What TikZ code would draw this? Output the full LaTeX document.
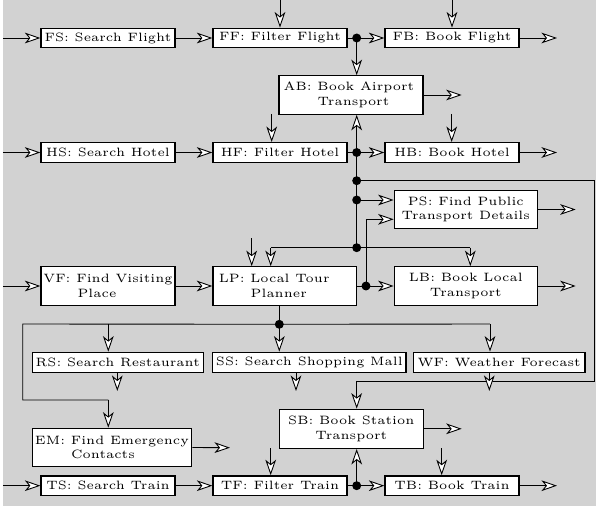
\documentclass[tikz,border=0pt]{standalone}
\usetikzlibrary{arrows.meta}
\def\p{0.413pt}
\newlength\pp
\setlength\pp{0.413pt}
\begin{document}
\begin{tikzpicture}[x=0.413pt,y=-0.413pt,
  box/.style={draw,fill=white,line width=0.55pt,inner sep=0pt,font=\tiny,align=center},
  sgl/.style={box,minimum width={134*\p},minimum height={19.6*\p}},
  dbl/.style={box,minimum height={38.4*\p}},
  conn/.style={line width=0.37pt},
  arr/.style={conn,-{Stealth[length=6.4pt,width=4.4pt,inset=1.8pt,fill=white]}},
  dot/.style={fill=black}]
\useasboundingbox (0,0) rectangle (596,510);
\fill[gray!35] (3,0) rectangle (596,506);

% ---------- nodes ----------
\node[sgl] (FS) at (108,38) {FS: Search Flight};
\node[sgl] (FF) at (280,38) {FF: Filter Flight};
\node[sgl] (FB) at (452,38) {FB: Book Flight};
\node[dbl,minimum width={144*\p}] (AB) at (351,95) {AB: Book Airport\hspace*{4\pp}\\\hspace*{5\pp}Transport};
\node[sgl] (HS) at (108,152.5) {HS: Search Hotel};
\node[sgl] (HF) at (280,152.5) {HF: Filter Hotel};
\node[sgl] (HB) at (452,152.5) {HB: Book Hotel};
\node[dbl,minimum width={143*\p},minimum height={37.6*\p}] (PS) at (465.8,209.5) {PS: Find Public\\Transport Details};
\node[dbl,minimum width={134*\p}] (VF) at (108,286) {VF: Find Visiting\\Place\hspace*{22\pp}};
\node[dbl,minimum width={143.5*\p}] (LP) at (284.7,286) {LP: Local Tour\hspace*{21\pp}\\Planner\hspace*{11.8\pp}};
\node[dbl,minimum width={143*\p}] (LB) at (465.8,286) {LB: Book Local\\Transport};
\node[box,minimum width={171*\p},minimum height={20*\p}] (RS) at (117.8,362.3) {RS: Search Restaurant};
\node[box,minimum width={193.3*\p},minimum height={20*\p}] (SS) at (309.3,362.3) {SS: Search Shopping Mall};
\node[box,minimum width={171.7*\p},minimum height={20*\p}] (WF) at (499.2,362.3) {WF: Weather Forecast};
\node[dbl,minimum width={144*\p},minimum height={39*\p}] (SB) at (351.3,428.8) {SB: Book Station\\Transport};
\node[dbl,minimum width={159.4*\p}] (EM) at (112,447.5) {EM: Find Emergency\\Contacts\hspace*{18\pp}};
\node[sgl] (TS) at (108,485.7) {TS: Search Train};
\node[sgl] (TF) at (280,485.7) {TF: Filter Train};
\node[sgl] (TB) at (452,485.7) {TB: Book Train};

% ---------- coordinates ----------
\coordinate (inFS) at (3,38);
\coordinate (inHS) at (3,152.5);
\coordinate (inVF) at (3,286);
\coordinate (inTS) at (3,485.7);
\coordinate (topFF) at (280,0);
\coordinate (topFB) at (452,0);
\coordinate (outFB) at (557,38);
\coordinate (outAB) at (461.7,95);
\coordinate (inHF) at (271.7,114);
\coordinate (inHB) at (451.7,114);
\coordinate (outHB) at (557,152.5);
\coordinate (outPS) at (575.7,209.5);
\coordinate (outLB) at (575.7,286);
\coordinate (inLP) at (251.7,238.3);
\coordinate (rtA) at (594,180.7);
\coordinate (rtB) at (594,381);
\coordinate (rtC) at (356.7,381);
\coordinate (lpA) at (270.7,247.7);
\coordinate (lbA) at (470.3,247.7);
\coordinate (psA) at (366,219.3);
\coordinate (lfA) at (22.7,324);
\coordinate (lfB) at (22.7,400);
\coordinate (lfC) at (108.3,400);
\coordinate (rsA) at (108.3,324);
\coordinate (wfA) at (490,324);
\coordinate (outRS) at (117.3,391);
\coordinate (outSS) at (296,391);
\coordinate (outWF) at (489.3,391);
\coordinate (ssT) at (296,372.3);
\coordinate (wfT) at (489.3,372.3);
\coordinate (outEM) at (230,447.7);
\coordinate (outSB) at (461.7,428.8);
\coordinate (inTF) at (270.7,448.3);
\coordinate (inTB) at (441.7,448.3);
\coordinate (outTB) at (557,485.7);
% junctions
\coordinate (dF) at (356.7,38);
\coordinate (dH) at (356.7,152.5);
\coordinate (d1) at (356.7,180.7);
\coordinate (d2) at (356.7,200);
\coordinate (d3) at (356.7,247.7);
\coordinate (dL) at (366,286);
\coordinate (dS) at (279.3,324.3);
\coordinate (dT) at (356.7,485.7);

% ---------- connectors ----------
% flights
\draw[arr] (inFS) -- (FS.west);
\draw[arr] (FS.east) -- (FF.west);
\draw[conn] (FF.east) -- (dF);
\draw[arr] (dF) -- (FB.west);
\draw[arr] (topFF) -- (FF.north);
\draw[arr] (topFB) -- (FB.north);
\draw[arr] (FB.east) -- (outFB);
\draw[arr] (dF) -- (dF |- AB.north);
\draw[arr] (AB.east) -- (outAB);
% hotels
\draw[arr] (inHF) -- (inHF |- HF.north);
\draw[arr] (inHB) -- (inHB |- HB.north);
\draw[arr] (inHS) -- (HS.west);
\draw[arr] (HS.east) -- (HF.west);
\draw[conn] (HF.east) -- (dH);
\draw[arr] (dH) -- (HB.west);
\draw[arr] (dH) -- (dH |- AB.south);
\draw[arr] (HB.east) -- (outHB);
% local
\draw[conn] (dH) -- (d1) -- (d2) -- (d3);
\draw[conn] (d1) -- (rtA) -- (rtB) -- (rtC);
\draw[arr] (rtC) -- (rtC |- SB.north);
\draw[arr] (d2) -- (d2 -| PS.west);
\draw[conn] (d3) -- (lpA);
\draw[arr] (lpA) -- (lpA |- LP.north);
\draw[conn] (d3) -- (lbA);
\draw[arr] (lbA) -- (lbA |- LB.north);
\draw[arr] (inLP) -- (inLP |- LP.north);
\draw[arr] (inVF) -- (VF.west);
\draw[arr] (VF.east) -- (LP.west);
\draw[conn] (LP.east) -- (dL);
\draw[arr] (dL) -- (LB.west);
\draw[conn] (dL) -- (psA);
\draw[arr] (psA) -- (psA -| PS.west);
\draw[arr] (PS.east) -- (outPS);
\draw[arr] (LB.east) -- (outLB);
% planner outputs
\draw[conn] (dS |- LP.south) -- (dS);
\draw[conn] (dS) -- (lfA) -- (lfB) -- (lfC);
\draw[arr] (lfC) -- (lfC |- EM.north);
\draw[arr] (rsA) -- (rsA |- RS.north);
\draw[arr] (dS) -- (dS |- SS.north);
\draw[conn] (dS) -- (wfA);
\draw[arr] (wfA) -- (wfA |- WF.north);
\draw[arr] (outRS |- RS.south) -- (outRS);
\draw[arr] (ssT) -- (outSS);
\draw[arr] (wfT) -- (outWF);
\draw[arr] (EM.east) -- (outEM);
\draw[arr] (SB.east) -- (outSB);
% trains
\draw[arr] (inTF) -- (inTF |- TF.north);
\draw[arr] (inTB) -- (inTB |- TB.north);
\draw[arr] (inTS) -- (TS.west);
\draw[arr] (TS.east) -- (TF.west);
\draw[conn] (TF.east) -- (dT);
\draw[arr] (dT) -- (TB.west);
\draw[arr] (dT) -- (dT |- SB.south);
\draw[arr] (TB.east) -- (outTB);

% ---------- dots ----------
\foreach \d in {dF,dH,d1,d2,d3,dL,dS,dT}
  \fill[dot] (\d) circle[radius=1.85pt];
\end{tikzpicture}
\end{document}
